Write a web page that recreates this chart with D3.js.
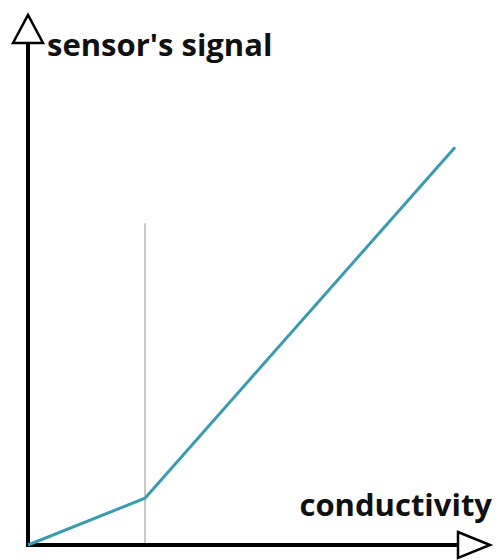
<!DOCTYPE html>
<html>
<head>
<meta charset="utf-8">
<script src="https://cdn.jsdelivr.net/npm/d3@7"></script>
<style>
  html, body { margin: 0; padding: 0; background: #fff; }
  svg { display: block; }
  text { font-family: "Open Sans", sans-serif; font-weight: 700; fill: #111; }
</style>
</head>
<body>
<svg id="chart"></svg>
<script>
// sketch data (arbitrary units)
const conductivity = [0, 1, 3.65];
const signal = [0, 0.4, 3.4];
const thresholdX = 1;
const thresholdTop = 2.75;
const xLabel = "conductivity";
const yLabel = "sensor's signal";

const width = 496, height = 560;
const svg = d3.select('#chart').attr('width', width).attr('height', height);

const x = d3.scaleLinear().domain([0, 3.675]).range([28, 458]);
const y = d3.scaleLinear().domain([0, 4.29]).range([545, 43]);

// threshold line
svg.append('line')
  .attr('x1', x(thresholdX)).attr('x2', x(thresholdX))
  .attr('y1', y(0)).attr('y2', y(thresholdTop))
  .attr('stroke', '#c9c9c9').attr('stroke-width', 2);

// axes
svg.append('line')
  .attr('x1', x(0)).attr('x2', x(0))
  .attr('y1', y(0) + 2).attr('y2', y.range()[1])
  .attr('stroke', '#000').attr('stroke-width', 4);
svg.append('line')
  .attr('x1', x(0) - 2).attr('x2', x.range()[1])
  .attr('y1', y(0)).attr('y2', y(0))
  .attr('stroke', '#000').attr('stroke-width', 4);

// arrow heads (outlined triangles)
const yTip = [[x(0) - 15, y.range()[1]], [x(0), 15], [x(0) + 15, y.range()[1]]];
const xTip = [[x.range()[1], y(0) - 13], [490, y(0)], [x.range()[1], y(0) + 13]];
svg.append('path')
  .attr('d', d3.line()(yTip) + 'Z')
  .attr('fill', '#fff').attr('stroke', '#000').attr('stroke-width', 2.5)
  .attr('stroke-linejoin', 'miter');
svg.append('path')
  .attr('d', d3.line()(xTip) + 'Z')
  .attr('fill', '#fff').attr('stroke', '#000').attr('stroke-width', 2.5)
  .attr('stroke-linejoin', 'miter');

// signal curve
const pts = conductivity.map((c, i) => [x(c), y(signal[i])]);
svg.append('path')
  .attr('d', d3.line()(pts))
  .attr('fill', 'none')
  .attr('stroke', '#3a9bb3')
  .attr('stroke-width', 3);

// labels
svg.append('text')
  .attr('x', 47).attr('y', 56)
  .attr('font-size', 31)
  .text(yLabel);
svg.append('text')
  .attr('x', 492).attr('y', 516)
  .attr('text-anchor', 'end')
  .attr('font-size', 31)
  .text(xLabel);
</script>
</body>
</html>
